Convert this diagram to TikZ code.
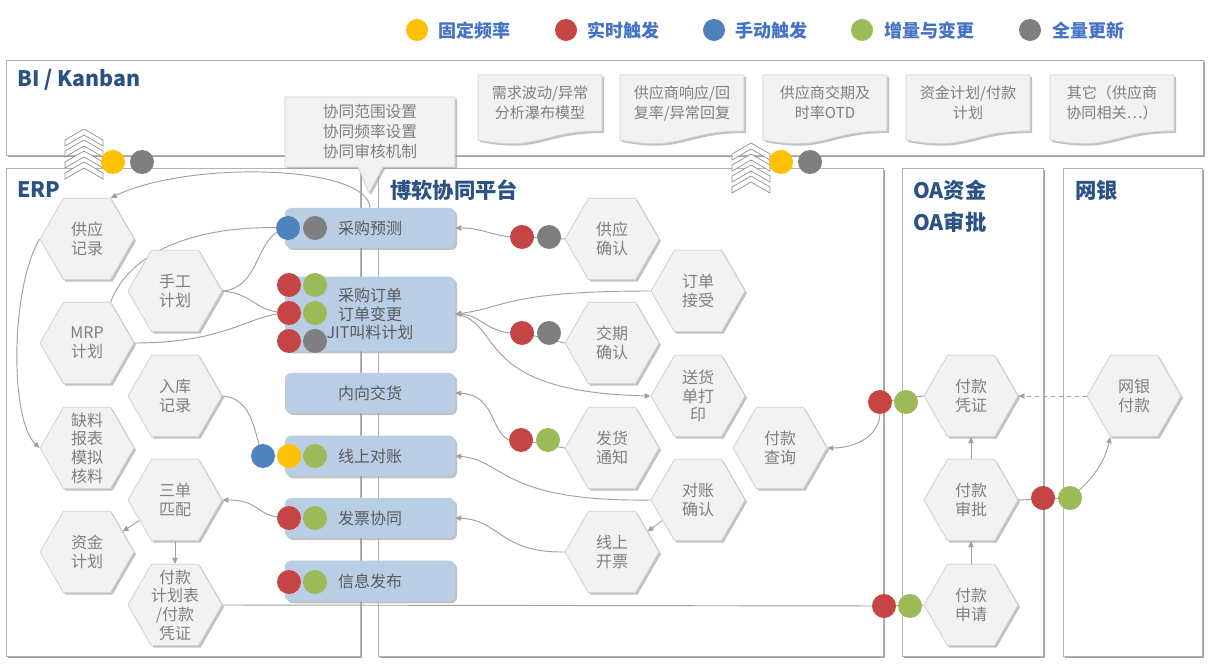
\documentclass[tikz,border=0pt]{standalone}
\usepackage{fontspec}
\setmainfont{Noto Sans CJK SC}
\usetikzlibrary{shapes.geometric,shadows,arrows.meta}
\definecolor{cR}{HTML}{C44543}
\definecolor{cG}{HTML}{9BBB59}
\definecolor{cB}{HTML}{4F81BD}
\definecolor{cY}{HTML}{FFC000}
\definecolor{cK}{HTML}{7F7F7F}
\definecolor{ttl}{HTML}{2A5285}
\definecolor{lgd}{HTML}{4472C4}
\definecolor{hexfill}{HTML}{F2F2F2}
\definecolor{hexline}{HTML}{D0D0D0}
\definecolor{boxblue}{HTML}{B9CDE5}
\definecolor{txt}{HTML}{7F7F7F}
\definecolor{con}{HTML}{A0A0A0}
\pgfdeclarelayer{framelayer}
\pgfdeclarelayer{conlayer}
\pgfsetlayers{framelayer,conlayer,main}
\newcommand\myhex[4]{\node[hexa] (#1) at (#2,#3) {}; \node[hextxt] (#1t) at (#2,#3) {#4};}
\newcommand\mydocsh[3]{%
  \path[docst] (#2,75) -- ({#2+124},75) -- ({#2+124},131) .. controls ({#2+62},131) and ({#2+62},152) .. (#2,140) -- cycle;
  \node[doctxt] (#1) at ({#2+62},103) {#3};}
\newcommand\mychev[2]{%
  \foreach \k in {0,1,2,3}{%
    \path[chevst] ({#1-19},{#2+11*\k+11}) -- (#1,{#2+11*\k}) -- ({#1+19},{#2+11*\k+11}) -- ({#1+19},{#2+11*\k+17}) -- (#1,{#2+11*\k+6}) -- ({#1-19},{#2+11*\k+17}) -- cycle;
  }}
\begin{document}
\begin{tikzpicture}[x=0.75pt,y=-0.75pt,
  frame/.style={draw=black!30, line width=0.6pt, fill=white, drop shadow={shadow xshift=1.8pt,shadow yshift=-1.8pt,fill=black!45,opacity=.8}},
  hexa/.style={regular polygon, regular polygon sides=6, minimum size=70.5pt, inner sep=0pt, fill=hexfill, draw=hexline, line width=0.6pt, drop shadow={shadow xshift=1.5pt,shadow yshift=-1.5pt,fill=black!40,opacity=.6}},
  hextxt/.style={align=center, text=txt, font=\fontsize{12}{14}\selectfont, inner sep=0pt},
  bbox/.style={fill=boxblue, rounded corners=4.5pt, minimum width=127.5pt, inner sep=0pt, align=center, text=black!65, font=\fontsize{12}{13.9}\selectfont, drop shadow={shadow xshift=1.5pt,shadow yshift=-1.5pt,fill=black!40,opacity=.6}},
  docst/.style={fill=hexfill, draw=hexline, line width=0.6pt, drop shadow={shadow xshift=1.5pt,shadow yshift=-1.5pt,fill=black!40,opacity=.6}},
  doctxt/.style={align=center, text=txt, font=\fontsize{11.3}{15}\selectfont, inner sep=0pt},
  callst/.style={fill=hexfill, draw=hexline, line width=0.6pt, drop shadow={shadow xshift=1.5pt,shadow yshift=-1.5pt,fill=black!40,opacity=.6}},
  calltxt/.style={align=center, text=txt, font=\fontsize{11.8}{15}\selectfont, inner sep=0pt},
  chevst/.style={fill=white, draw=black!45, line width=0.5pt},
  dot/.style={circle, inner sep=0pt, minimum size=18pt},
  ldot/.style={circle, inner sep=0pt, minimum size=16.5pt},
  ttltxt/.style={anchor=west, text=ttl, font=\bfseries\fontsize{16}{18}\selectfont, inner sep=0pt},
  lgdtxt/.style={anchor=west, text=lgd, font=\bfseries\fontsize{13.5}{16}\selectfont, inner sep=0pt},
  conn/.style={draw=con, line width=0.7pt},
  arr/.style={conn, -{Triangle[length=4.5pt,width=4pt]}}
]
\useasboundingbox (0,0) rectangle (1213,666);

% ---------- frames ----------
\begin{pgfonlayer}{framelayer}
\path[frame] (6,60) rectangle (1203,155);
\path[frame] (6,168) rectangle (360,656);
\path[frame] (378,168) rectangle (883,656);
\path[frame] (902,168) rectangle (1043,656);
\path[frame] (1063,168) rectangle (1202,656);
\end{pgfonlayer}

% ---------- legend ----------
\node[ldot, fill=cY] (L1) at (417,30) {};
\node[lgdtxt] (L1t) at (438,31) {固定频率};
\node[ldot, fill=cR] (L2) at (566,30) {};
\node[lgdtxt] (L2t) at (587,31) {实时触发};
\node[ldot, fill=cB] (L3) at (714,30) {};
\node[lgdtxt] (L3t) at (735,31) {手动触发};
\node[ldot, fill=cG] (L4) at (862,30) {};
\node[lgdtxt] (L4t) at (884,31) {增量与变更};
\node[ldot, fill=cK] (L5) at (1030,30) {};
\node[lgdtxt] (L5t) at (1052,31) {全量更新};

% ---------- titles ----------
\node[ttltxt] (tBI) at (17,80) {BI / Kanban};
\node[ttltxt] (tERP) at (17,190) {ERP};
\node[ttltxt] (tPF) at (390,190) {博软协同平台};
\node[ttltxt] (tOA1) at (913,190) {OA资金};
\node[ttltxt] (tOA2) at (913,222) {OA审批};
\node[ttltxt] (tWY) at (1075,190) {网银};

% ---------- BI documents ----------
\mydocsh{doc1}{478}{需求波动/异常\\分析瀑布模型}
\mydocsh{doc2}{620}{供应商响应/回\\复率/异常回复}
\mydocsh{doc3}{763}{供应商交期及\\时率OTD}
\mydocsh{doc4}{906}{资金计划/付款\\计划}
\mydocsh{doc5}{1050}{其它（供应商\\协同相关…）}

% ---------- hexagons ----------
\myhex{gy}{87}{239}{供应\\记录}
\myhex{sg}{175}{291}{手工\\计划}
\myhex{mrp}{87}{343}{MRP\\计划}
\myhex{rk}{175}{396}{入库\\记录}
\myhex{qb}{87}{448}{缺料\\报表\\模拟\\核料}
\myhex{sd}{175}{500}{三单\\匹配}
\myhex{zj}{87}{552}{资金\\计划}
\myhex{fk}{175}{605}{付款\\计划表\\/付款\\凭证}
\myhex{gq}{612}{239}{供应\\确认}
\myhex{dj}{698}{291}{订单\\接受}
\myhex{jq}{612}{343}{交期\\确认}
\myhex{sh}{698}{396}{送货\\单打\\印}
\myhex{fh}{612}{448}{发货\\通知}
\myhex{fc}{780}{448}{付款\\查询}
\myhex{dz}{698}{500}{对账\\确认}
\myhex{xk}{612}{552}{线上\\开票}
\myhex{pz}{971}{396}{付款\\凭证}
\myhex{sp}{971}{500}{付款\\审批}
\myhex{sq}{971}{605}{付款\\申请}
\myhex{wy}{1134}{396}{网银\\付款}

% ---------- blue process boxes ----------
\node[bbox, minimum height=30pt] (yc) at (370,228) {采购预测};
\node[bbox, minimum height=56pt] (cd) at (370,314) {采购订单\\订单变更\\JIT叫料计划};
\node[bbox, minimum height=30pt] (nx) at (370,393) {内向交货};
\node[bbox, minimum height=30.5pt] (xs) at (370,456) {线上对账};
\node[bbox, minimum height=30pt] (fp) at (370,518) {发票协同};
\node[bbox, minimum height=30.5pt] (xx) at (370,581) {信息发布};

% ---------- callout ----------
\path[callst] (285,97) -- (455,97) -- (455,167) -- (383,167) -- (369,193) -- (358,167) -- (285,167) -- cycle;
\node[calltxt] (cs) at (370,132) {协同范围设置\\协同频率设置\\协同审核机制};

% ---------- chevron icons ----------
\mychev{84}{129}
\mychev{751}{143}

% ---------- dots ----------
\node[dot, fill=cY] (t1) at (113,162) {};
\node[dot, fill=cK] (t2) at (142,162) {};
\node[dot, fill=cY] (t3) at (781,162) {};
\node[dot, fill=cK] (t4) at (810,162) {};
\node[dot, fill=cB] (d1) at (288,228) {};
\node[dot, fill=cK] (d2) at (315,228) {};
\node[dot, fill=cR] (d3) at (289,285) {};
\node[dot, fill=cG] (d4) at (315,285) {};
\node[dot, fill=cR] (d5) at (289,313) {};
\node[dot, fill=cG] (d6) at (315,313) {};
\node[dot, fill=cR] (d7) at (289,341) {};
\node[dot, fill=cK] (d8) at (315,341) {};
\node[dot, fill=cB] (e1) at (263,456) {};
\node[dot, fill=cY] (e2) at (289,456) {};
\node[dot, fill=cG] (e3) at (315,456) {};
\node[dot, fill=cR] (f1) at (289,518) {};
\node[dot, fill=cG] (f2) at (315,518) {};
\node[dot, fill=cR] (x1) at (289,582) {};
\node[dot, fill=cG] (x2) at (315,582) {};
\node[dot, fill=cR] (h1) at (522,237) {};
\node[dot, fill=cK] (h2) at (549,237) {};
\node[dot, fill=cR] (i1) at (522,333) {};
\node[dot, fill=cK] (i2) at (549,333) {};
\node[dot, fill=cR] (j1) at (521,440) {};
\node[dot, fill=cG] (j2) at (548,440) {};
\node[dot, fill=cR] (k1) at (880,402) {};
\node[dot, fill=cG] (k2) at (906,402) {};
\node[dot, fill=cR] (m1) at (1043,498) {};
\node[dot, fill=cG] (m2) at (1070,498) {};
\node[dot, fill=cR] (g1) at (884,606) {};
\node[dot, fill=cG] (g2) at (910,606) {};

% ---------- connectors ----------
\begin{pgfonlayer}{conlayer}
\draw[arr] (yc.north) .. controls (368,165) and (190,160) .. (gy.60);
\draw[arr] (gy.west) .. controls (10,290) and (10,420) .. (qb.west);
\draw[conn] (d1.center) .. controls (200,224) and (130,250) .. (mrp.60);
\draw[conn] (d1.center) .. controls (255,232) and (262,288) .. (sg.east);
\draw[conn] (sg.east) .. controls (255,294) and (255,313) .. (d5.center);
\draw[conn] (mrp.east) .. controls (230,343) and (250,313) .. (d5.center);
\draw[conn] (rk.east) .. controls (255,398) and (255,440) .. (e1.center);
\draw[arr] (f1.center) .. controls (255,518) and (262,500) .. (sd.east);
\draw[arr] (sd.210) -- (zj.30);
\draw[arr] (sd.south) -- (fk.north);
\draw[conn] (fk.east) -- (g1.center) -- (sq.west);
\draw[conn] (h1.center) -- (gq.west);
\draw[arr] (h1.west) .. controls (485,233) and (480,228) .. (yc.east);
\draw[arr] (dj.west) .. controls (505,291) and (505,308) .. (cd.east);
\draw[conn] (i1.center) -- (jq.west);
\draw[arr] (i1.west) .. controls (485,330) and (480,315) .. (cd.east);
\draw[arr] (cd.east) .. controls (505,322) and (470,392) .. (sh.west);
\draw[conn] (j1.center) -- (fh.west);
\draw[arr] (j1.west) .. controls (490,430) and (495,395) .. (nx.east);
\draw[arr] (dz.west) .. controls (500,502) and (505,460) .. (xs.east);
\draw[arr] (dz.210) -- (xk.30);
\draw[arr] (xk.west) .. controls (500,553) and (500,520) .. (fp.east);
\draw[conn] (k1.center) -- (pz.west);
\draw[arr] (k1.south) .. controls (878,440) and (850,448) .. (fc.east);
\draw[arr] (sq.north) -- (sp.south);
\draw[arr] (sp.north) -- (pz.south);
\draw[conn] (sp.east) -- (m2.center);
\draw[arr] (m2.center) .. controls (1095,478) and (1105,460) .. (wy.240);
\draw[arr, dashed] (wy.west) -- (pz.east);
\end{pgfonlayer}
\end{tikzpicture}
\end{document}
